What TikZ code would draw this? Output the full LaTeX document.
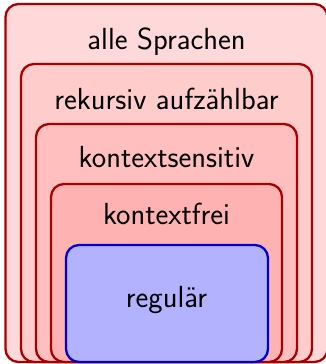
\documentclass[tikz,border=0pt]{standalone}
\begin{document}
\begin{tikzpicture}[x=1pt,y=-1pt]
\tikzset{
  setbox/.style={draw=red!67!black, line width=2.3pt, rounded corners=13pt, anchor=north west, inner sep=0pt, outer sep=0pt},
  regbox/.style={setbox, draw=blue!80!black},
  lab/.style={font=\sffamily\fontsize{30.5}{36}\selectfont, inner sep=0pt}
}
\useasboundingbox (0,0) rectangle (326,364);
\clip (0,0) rectangle (326,364);
\node[setbox, fill=red!15, minimum width=322pt, minimum height=358pt] (b1) at (5.5,4) {};
\node[setbox, fill=red!20, minimum width=291pt, minimum height=298pt] (b2) at (21,64) {};
\node[setbox, fill=red!25, minimum width=261pt, minimum height=238pt] (b3) at (36,124) {};
\node[setbox, fill=red!30, minimum width=231pt, minimum height=178pt] (b4) at (51,184) {};
\node[regbox, fill=blue!30, minimum width=202pt, minimum height=117pt] (b5) at (66,245) {};
\node[lab] (t1) at (166.5,42) {alle Sprachen};
\node[lab] (t2) at (166.5,99) {rekursiv aufzählbar};
\node[lab] (t3) at (166.5,157) {kontextsensitiv};
\node[lab] (t4) at (166.5,214) {kontextfrei};
\node[lab] (t5) at (166.5,300) {regulär};
\end{tikzpicture}
\end{document}
